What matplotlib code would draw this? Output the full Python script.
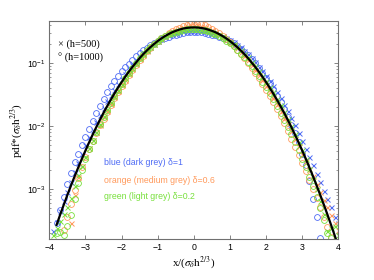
import matplotlib
matplotlib.use("Agg")
import matplotlib.pyplot as plt
from matplotlib.ticker import LogLocator, NullFormatter, FixedLocator

# ---------------- data ----------------
x_bins = [-3.9, -3.8, -3.7, -3.6, -3.5, -3.4, -3.3, -3.2, -3.1, -3.0,
          -2.9, -2.8, -2.7, -2.6, -2.5, -2.4, -2.3, -2.2, -2.1, -2.0,
          -1.9, -1.8, -1.7, -1.6, -1.5, -1.4, -1.3, -1.2, -1.1, -1.0,
          -0.9, -0.8, -0.7, -0.6, -0.5, -0.4, -0.3, -0.2, -0.1, 0.0,
          0.1, 0.2, 0.3, 0.4, 0.5, 0.6, 0.7, 0.8, 0.9, 1.0,
          1.1, 1.2, 1.3, 1.4, 1.5, 1.6, 1.7, 1.8, 1.9, 2.0,
          2.1, 2.2, 2.3, 2.4, 2.5, 2.6, 2.7, 2.8, 2.9, 3.0,
          3.1, 3.2, 3.3, 3.4, 3.5, 3.6, 3.7, 3.8, 3.9, 4.0]

# black reference curve, x from -3.8 to 4.0
fit_pdf = [2.72e-4, 3.96e-4, 5.71e-4, 8.14e-4, 1.15e-3, 1.61e-3, 2.22e-3, 3.05e-3, 4.13e-3,
           5.55e-3, 7.38e-3, 9.72e-3, 1.27e-2, 1.64e-2, 2.09e-2, 2.64e-2, 3.31e-2, 4.10e-2, 5.03e-2,
           6.12e-2, 7.36e-2, 8.77e-2, 0.103, 0.121, 0.140, 0.160, 0.181, 0.203, 0.226,
           0.248, 0.270, 0.291, 0.311, 0.328, 0.343, 0.356, 0.365, 0.370, 0.372,
           0.370, 0.365, 0.356, 0.343, 0.328, 0.311, 0.291, 0.270, 0.248, 0.226,
           0.203, 0.181, 0.160, 0.140, 0.121, 0.103, 8.77e-2, 7.36e-2, 6.12e-2, 5.03e-2,
           4.10e-2, 3.31e-2, 2.64e-2, 2.09e-2, 1.64e-2, 1.27e-2, 9.72e-3, 7.38e-3, 5.55e-3, 4.13e-3,
           3.05e-3, 2.22e-3, 1.61e-3, 1.15e-3, 8.14e-4, 5.71e-4, 3.96e-4, 2.72e-4, 1.85e-4, 1.25e-4]

# blue, delta=1, h=1000 (circles), x from -3.8 to 3.5
blue_h1000 = [2.92e-4, 4.76e-4, 7.53e-4, 1.20e-3, 1.82e-3, 2.67e-3, 3.69e-3, 5.06e-3, 6.86e-3,
              9.21e-3, 1.225e-2, 1.61e-2, 2.11e-2, 2.72e-2, 3.47e-2, 4.38e-2, 5.25e-2, 6.27e-2, 7.44e-2,
              8.63e-2, 9.93e-2, 0.114, 0.130, 0.145, 0.161, 0.176, 0.194, 0.210, 0.226,
              0.240, 0.252, 0.265, 0.277, 0.285, 0.292, 0.303, 0.311, 0.315, 0.317,
              0.315, 0.311, 0.303, 0.292, 0.285, 0.277, 0.265, 0.252, 0.240, 0.226,
              0.208, 0.190, 0.171, 0.153, 0.134, 0.116, 0.0995, 0.0845, 0.0710, 0.0591,
              0.0482, 0.0389, 0.0306, 0.0240, 0.0186, 0.0139, 0.0104, 7.73e-3, 5.55e-3, 3.68e-3,
              2.42e-3, 1.33e-3, 7.0e-4, 3.6e-4, 1.7e-4]

# blue, delta=1, h=500 (crosses), x from -3.9 to 4.0
blue_h500 = [2.17e-4, 3.05e-4, 4.44e-4, 6.41e-4, 9.13e-4, 1.32e-3, 1.87e-3, 2.61e-3, 3.63e-3, 4.96e-3,
             6.67e-3, 8.87e-3, 1.17e-2, 1.53e-2, 1.97e-2, 2.49e-2, 3.10e-2, 3.84e-2, 4.65e-2, 5.64e-2,
             6.79e-2, 8.07e-2, 9.51e-2, 0.110, 0.127, 0.145, 0.164, 0.183, 0.203, 0.226,
             0.245, 0.264, 0.281, 0.297, 0.306, 0.316, 0.325, 0.325, 0.330, 0.331,
             0.330, 0.329, 0.325, 0.316, 0.306, 0.297, 0.284, 0.270, 0.251, 0.237,
             0.218, 0.198, 0.180, 0.159, 0.139, 0.121, 0.104, 0.0885, 0.0753, 0.0633,
             0.0528, 0.0430, 0.0348, 0.0279, 0.0221, 0.0173, 0.0134, 0.0103, 7.84e-3, 5.84e-3,
             4.41e-3, 3.28e-3, 2.44e-3, 1.78e-3, 1.29e-3, 9.48e-4, 7.04e-4, 5.17e-4, 3.69e-4, 2.88e-4]

# orange, delta=0.6, h=1000 (circles), x from -3.6 to 3.8
orange_h1000 = [2.27e-4, 3.64e-4, 5.75e-4, 9.66e-4, 1.51e-3, 2.26e-3, 3.20e-3,
                4.41e-3, 5.86e-3, 7.72e-3, 1.03e-2, 1.33e-2, 1.71e-2, 2.19e-2, 2.78e-2, 3.49e-2, 4.33e-2,
                5.32e-2, 6.55e-2, 7.89e-2, 0.0948, 0.113, 0.133, 0.155, 0.177, 0.201, 0.226,
                0.251, 0.276, 0.301, 0.327, 0.352, 0.370, 0.390, 0.405, 0.415, 0.417,
                0.420, 0.414, 0.399, 0.376, 0.352, 0.326, 0.298, 0.270, 0.242, 0.216,
                0.189, 0.165, 0.143, 0.122, 0.103, 0.0857, 0.0713, 0.0584, 0.0475, 0.0382,
                0.0304, 0.0240, 0.0187, 0.0145, 0.0111, 8.39e-3, 6.28e-3, 4.66e-3, 3.50e-3, 2.61e-3,
                1.92e-3, 1.40e-3, 1.02e-3, 7.26e-4, 5.14e-4, 3.60e-4, 2.50e-4, 1.77e-4]

# orange, delta=0.6, h=500 (crosses), x from -3.4 to 4.0
orange_h500 = [2.89e-4, 8.07e-4, 1.57e-3, 2.37e-3, 3.28e-3,
               4.50e-3, 6.05e-3, 8.07e-3, 1.06e-2, 1.38e-2, 1.78e-2, 2.27e-2, 2.88e-2, 3.61e-2, 4.48e-2,
               5.51e-2, 6.71e-2, 8.09e-2, 0.0961, 0.116, 0.135, 0.156, 0.179, 0.203, 0.226,
               0.251, 0.276, 0.300, 0.322, 0.343, 0.364, 0.382, 0.396, 0.406, 0.408,
               0.406, 0.396, 0.382, 0.364, 0.343, 0.320, 0.294, 0.270, 0.245, 0.221,
               0.196, 0.173, 0.151, 0.131, 0.112, 0.0939, 0.0791, 0.0656, 0.0539, 0.0438,
               0.0353, 0.0282, 0.0222, 0.0174, 0.0136, 0.0107, 8.27e-3, 6.35e-3, 4.83e-3, 3.68e-3,
               2.78e-3, 2.12e-3, 1.61e-3, 1.20e-3, 9.13e-4, 6.86e-4, 5.22e-4, 3.84e-4, 2.93e-4, 2.23e-4]

# green, delta=0.2, h=1000 (circles), x from -3.8 to 3.8
green_h1000 = [2.0e-4, 2.1e-4, 1.9e-4, 2.6e-4, 3.9e-4, 7.0e-4, 1.25e-3, 2.0e-3, 3.0e-3,
               4.3e-3, 5.9e-3, 8.0e-3, 1.07e-2, 1.41e-2, 1.84e-2, 2.38e-2, 3.03e-2, 3.81e-2, 4.73e-2,
               5.81e-2, 7.06e-2, 8.51e-2, 0.101, 0.120, 0.140, 0.160, 0.182, 0.205, 0.228,
               0.250, 0.270, 0.289, 0.306, 0.320, 0.332, 0.341, 0.346, 0.349, 0.350,
               0.348, 0.343, 0.334, 0.322, 0.307, 0.290, 0.271, 0.251, 0.230, 0.209,
               0.186, 0.164, 0.143, 0.124, 0.106, 0.0891, 0.0750, 0.0623, 0.0512, 0.0416,
               0.0335, 0.0267, 0.0210, 0.0165, 0.0128, 9.81e-3, 7.42e-3, 5.57e-3, 4.15e-3, 3.06e-3,
               2.23e-3, 1.59e-3, 1.12e-3, 7.6e-4, 5.0e-4, 3.2e-4, 2.0e-4, 1.7e-4]

# green, delta=0.2, h=500 (crosses), x from -3.9 to 4.0
green_h500 = [1.85e-4, 2.42e-4, 3.14e-4, 4.04e-4, 5.14e-4, 7.26e-4, 1.14e-3, 1.69e-3, 2.38e-3, 3.28e-3,
              4.50e-3, 6.13e-3, 8.26e-3, 1.10e-2, 1.46e-2, 1.88e-2, 2.41e-2, 3.05e-2, 3.81e-2, 4.73e-2,
              5.81e-2, 7.07e-2, 8.51e-2, 0.101, 0.120, 0.140, 0.160, 0.181, 0.203, 0.226,
              0.247, 0.268, 0.287, 0.305, 0.319, 0.331, 0.340, 0.346, 0.349, 0.349,
              0.347, 0.342, 0.335, 0.324, 0.311, 0.296, 0.280, 0.262, 0.243, 0.222,
              0.201, 0.181, 0.161, 0.142, 0.124, 0.106, 0.0908, 0.0765, 0.0638, 0.0525,
              0.0428, 0.0345, 0.0275, 0.0217, 0.0170, 0.0131, 9.96e-3, 7.52e-3, 5.61e-3, 4.13e-3,
              2.98e-3, 2.12e-3, 1.48e-3, 1.01e-3, 6.5e-4, 4.0e-4, 2.2e-4, 2.4e-4, 2.6e-4, 1.9e-4]

x_ticks = [-4, -3, -2, -1, 0, 1, 2, 3, 4]
series_labels = ["blue (dark grey) \u03b4=1",
                 "orange (medium grey) \u03b4=0.6",
                 "green (light grey) \u03b4=0.2"]

# ---------------- styling ----------------
BLUE = "#4f6cf5"
ORANGE = "#ff9a5c"
GREEN = "#78e03c"
FRAME = "#707070"

plt.rcParams["mathtext.fontset"] = "stix"

fig = plt.figure(figsize=(3.74, 2.80), dpi=100)
ax = fig.add_axes([0.132, 0.145, 0.7725, 0.780])

def xs(first, n):
    i = x_bins.index(first)
    return x_bins[i:i + n]

circ = dict(marker="o", ms=4.2, mfc="none", mew=0.6, ls="none")
crs = dict(marker="x", ms=3.6, mew=0.7, ls="none")

ax.plot(xs(-3.8, len(blue_h1000)), blue_h1000, color=BLUE, **circ)
ax.plot(xs(-3.9, len(blue_h500)), blue_h500, color=BLUE, **crs)
ax.plot(xs(-3.6, len(orange_h1000)), orange_h1000, color=ORANGE, **circ)
ax.plot(xs(-3.4, len(orange_h500)), orange_h500, color=ORANGE, **crs)
ax.plot(xs(-3.8, len(green_h1000)), green_h1000, color=GREEN, **circ)
ax.plot(xs(-3.9, len(green_h500)), green_h500, color=GREEN, **crs)
ax.plot(xs(-3.8, len(fit_pdf)), fit_pdf, color="black", lw=1.6)

ax.set_yscale("log")
ax.set_xlim(-4, 4)
ax.set_ylim(1.6e-4, 0.47)
ax.xaxis.set_major_locator(FixedLocator(x_ticks))
ax.set_xticklabels(["\u2212%d" % -t if t < 0 else "%d" % t for t in x_ticks])
ax.yaxis.set_major_locator(LogLocator(base=10, numticks=10))
ax.yaxis.set_minor_locator(LogLocator(base=10, subs=range(2, 10), numticks=20))
ax.yaxis.set_minor_formatter(NullFormatter())

for s in ax.spines.values():
    s.set_color(FRAME)
    s.set_linewidth(0.8)
ax.tick_params(which="both", direction="in", top=True, right=True, color=FRAME,
               labelsize=6.3, pad=2.5, labelcolor="black")
ax.tick_params(which="major", length=3, width=0.6)
ax.tick_params(which="minor", length=1.6, width=0.5)
for lab in ax.get_xticklabels() + ax.get_yticklabels():
    lab.set_family(["Liberation Sans", "DejaVu Sans"])

serif = ["Liberation Serif", "DejaVu Serif"]
ax.set_xlabel(r"x/($\sigma_\delta$h$^{2/3}$)", family=serif, fontsize=8, labelpad=2)
ax.set_ylabel(r"pdf*($\sigma_\delta$h$^{2/3}$)", family=serif, fontsize=8, labelpad=2)

ax.text(0.03, 0.895, "\u00d7 (h=500)", transform=ax.transAxes, family=serif,
        fontsize=7.5, va="center", ha="left")
ax.text(0.03, 0.83, "\u00b0 (h=1000)", transform=ax.transAxes, family=serif,
        fontsize=7.5, va="center", ha="left")

sans = ["Liberation Sans", "DejaVu Sans"]
for lbl, col, yy in zip(series_labels, [BLUE, ORANGE, GREEN], [0.35, 0.27, 0.195]):
    ax.text(0.19, yy, lbl, transform=ax.transAxes, color=col, family=sans,
            fontsize=6.3, va="center", ha="left")

fig.savefig("out.png", dpi=100, facecolor="white")
